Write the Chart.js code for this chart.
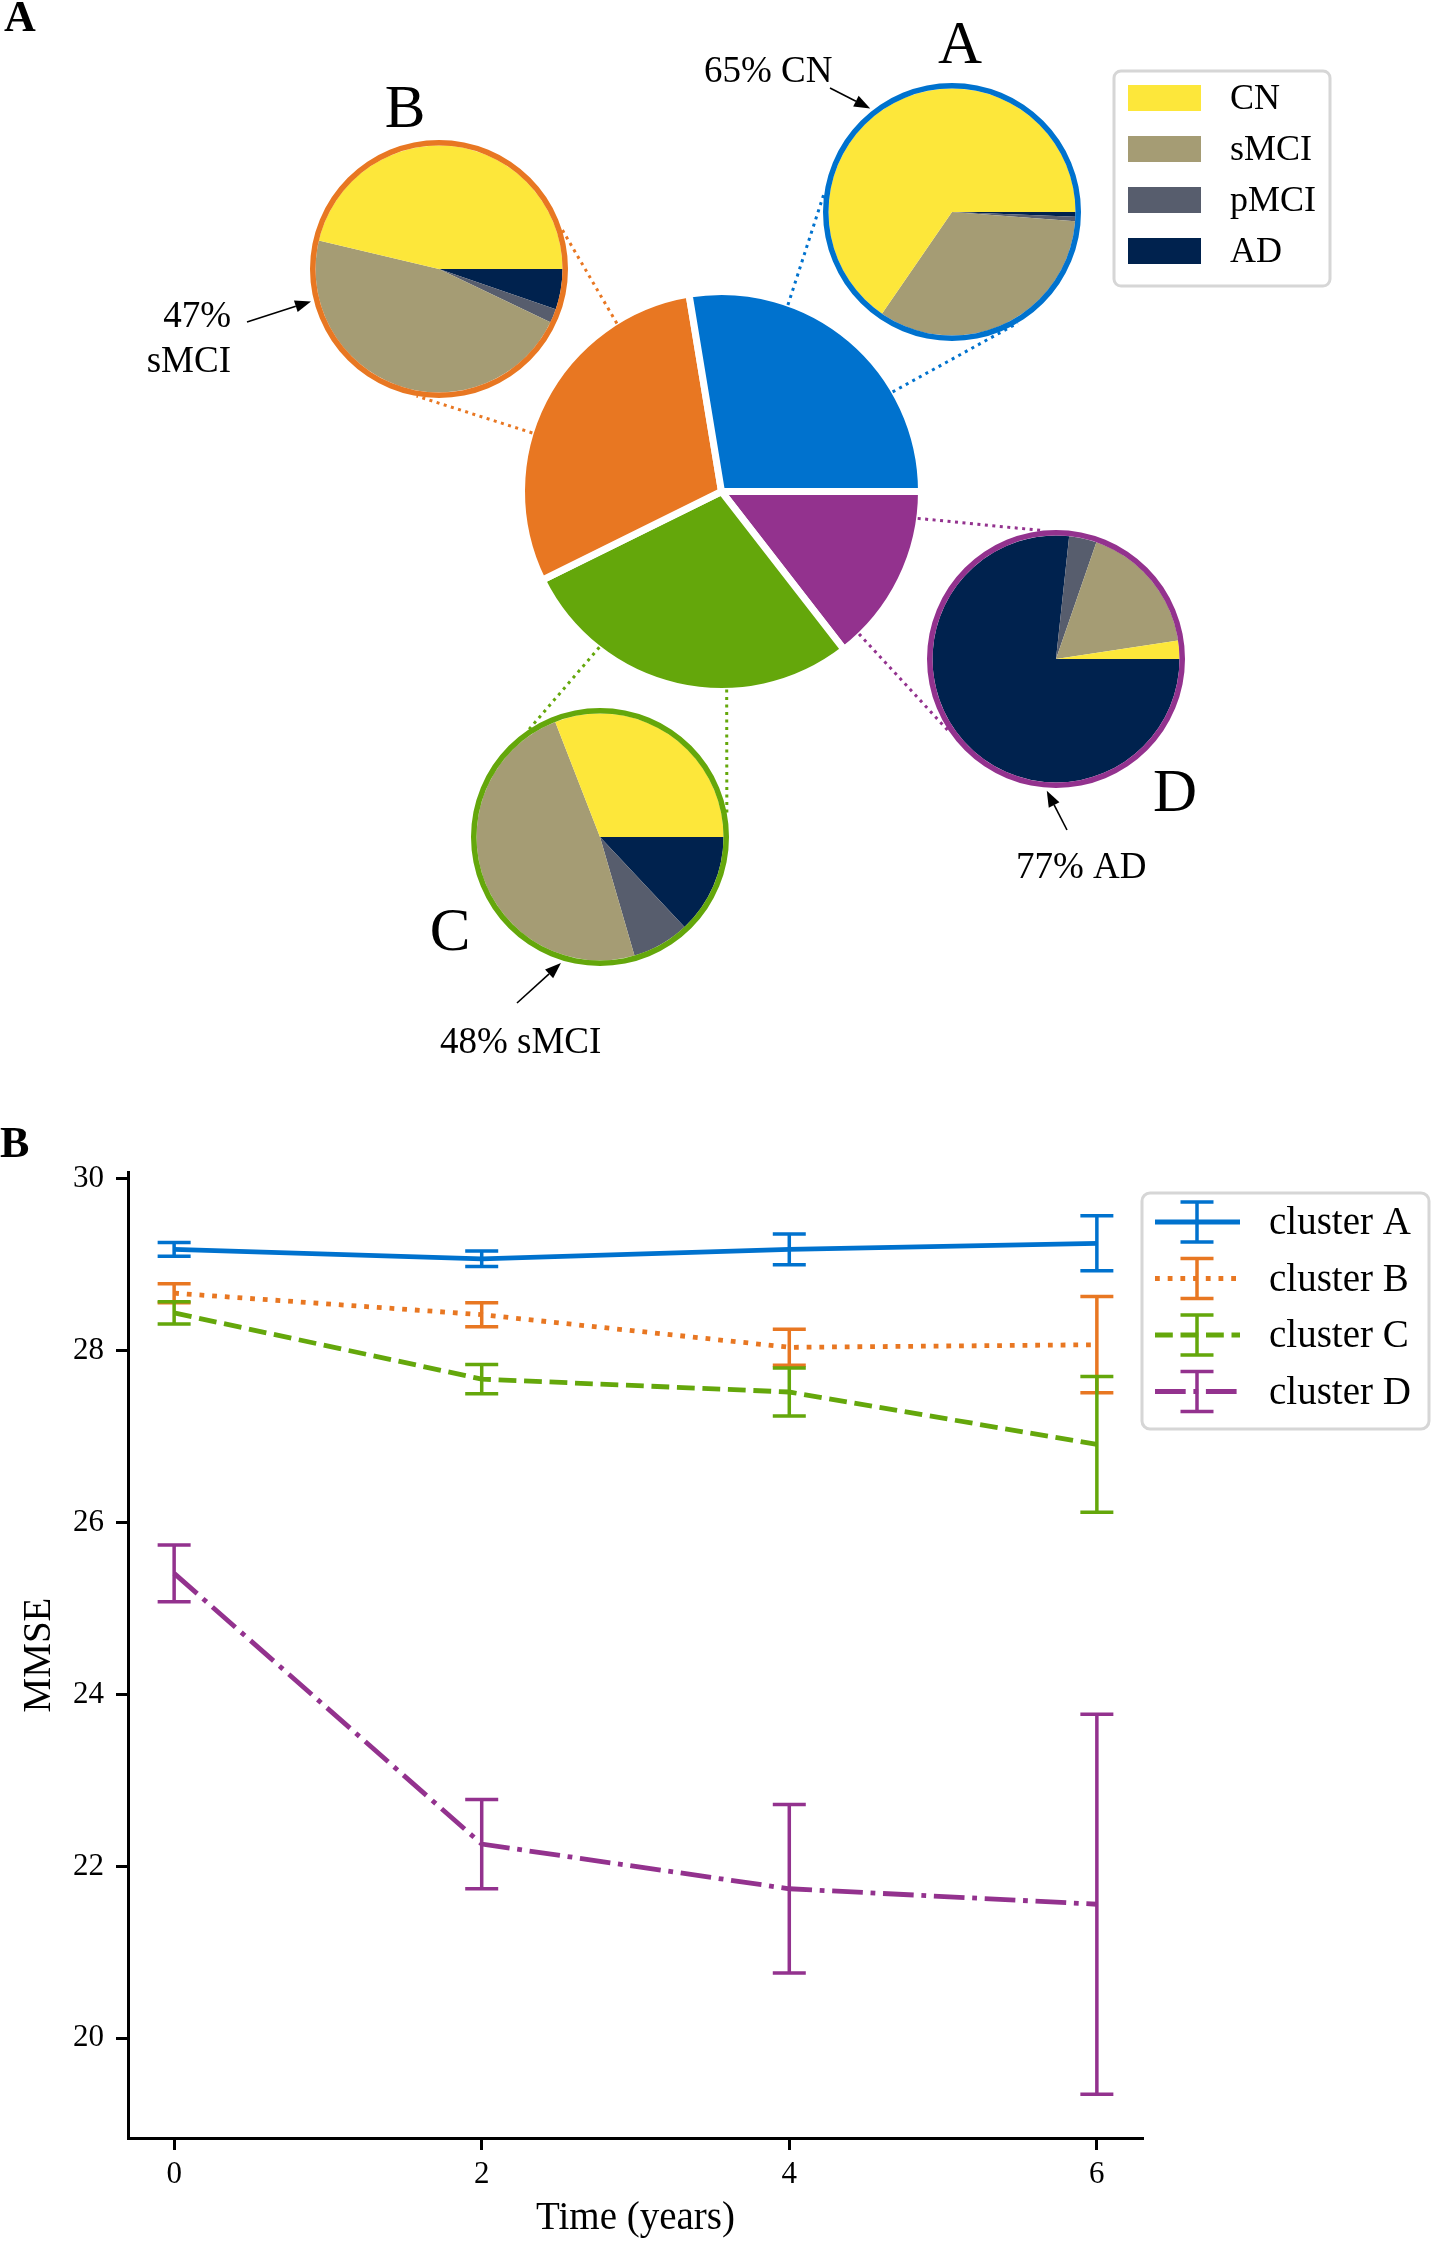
<!DOCTYPE html>
<html lang="en">
<head>
<meta charset="UTF-8">
<title>Cluster composition and MMSE trajectories</title>
<script src="https://cdn.jsdelivr.net/npm/chart.js"></script>
<style>
    body { margin: 0; background: #fff; }
    #page { position: relative; width: 1432px; height: 2242px; overflow: hidden; }
    canvas { position: absolute; }
    .sub { z-index: 2; }
</style>
</head>
<body>
<div id="page">
    <canvas id="mainPie" width="1432" height="1100" style="left:0px;top:0px"></canvas>
    <canvas id="subA" class="sub" width="270" height="270"></canvas>
    <canvas id="subB" class="sub" width="270" height="270"></canvas>
    <canvas id="subC" class="sub" width="270" height="270"></canvas>
    <canvas id="subD" class="sub" width="270" height="270"></canvas>
    <canvas id="mmseChart" width="1432" height="1142" style="left:0px;top:1100px"></canvas>
</div>

<script>
// ---- data ----
const clusters = ['A', 'B', 'C', 'D'];
const clusterColors = ['#0072ce', '#e87722', '#64a70b', '#93328e'];
const clusterShare = [27.6, 29.7, 28.2, 14.5];          // % of subjects per cluster

const groups = ['CN', 'sMCI', 'pMCI', 'AD'];
const groupColors = ['#fde73a', '#a59c74', '#575d6d', '#00224e'];
const compA = [65.4, 33.4, 0.6, 0.6];
const compB = [46.3, 46.6, 1.8, 5.3];
const compC = [30.9, 48.6, 7.5, 13.0];
const compD = [2.4, 17.3, 3.6, 76.7];

const years = [0, 2, 4, 6];
const mmseA = [29.18, 29.07, 29.18, 29.25];
const mmseB = [28.67, 28.42, 28.04, 28.07];
const mmseC = [28.44, 27.67, 27.52, 26.91];
const mmseD = [25.41, 22.26, 21.74, 21.56];
const errA = [0.08, 0.09, 0.18, 0.32];
const errB = [0.11, 0.14, 0.21, 0.56];
const errC = [0.13, 0.17, 0.28, 0.79];
const errD = [0.33, 0.52, 0.98, 2.21];

const xTicks = [0, 2, 4, 6];
const yTicks = [20, 22, 24, 26, 28, 30];

// ---- layout of panel A ----
const FONT = '"Liberation Serif", "DejaVu Serif", serif';
const subCenters = [[952, 212], [439, 269], [600, 837], [1056, 659]];
const SUB_R = 129, RING_W = 5.5;
// dotted links: angle on main pie -> angle on sub pie (deg, ccw from east)
const linkMain = [[70.4, 30.2], [121.9, 162.8], [231.9, 271.5], [352.2, 314]];
const linkSub = [[171, 300.6], [18.3, 260], [123.3, 10.5], [95.7, 215.1]];
const letterPos = [[960, 63], [405, 127], [450, 950], [1175, 811]];
const notes = [
    { lines: ['65% CN'], x: 704, y: [82], align: 'left', tail: [830, 88], tip: 128.3 },
    { lines: ['47%', 'sMCI'], x: 231, y: [327, 372], align: 'right', tail: [247, 322], tip: 194.2 },
    { lines: ['48% sMCI'], x: 440, y: [1053], align: 'left', tail: [517, 1003], tip: 252.8 },
    { lines: ['77% AD'], x: 1016, y: [878], align: 'left', tail: [1067, 830], tip: 266 }
];

const comps = [compA, compB, compC, compD];
const rev = a => a.slice().reverse();   // chart.js goes clockwise, the figure counter-clockwise

function polar(cx, cy, r, deg) {
    const a = deg * Math.PI / 180;
    return [cx + r * Math.cos(a), cy - r * Math.sin(a)];
}

function arrow(ctx, x0, y0, x1, y1) {
    const ang = Math.atan2(y1 - y0, x1 - x0), hl = 16, hw = 6;
    const bx = x1 - hl * Math.cos(ang), by = y1 - hl * Math.sin(ang);
    ctx.strokeStyle = '#000';
    ctx.lineWidth = 1.6;
    ctx.beginPath(); ctx.moveTo(x0, y0); ctx.lineTo(bx, by); ctx.stroke();
    ctx.fillStyle = '#000';
    ctx.beginPath();
    ctx.moveTo(x1, y1);
    ctx.lineTo(bx + hw * Math.sin(ang), by - hw * Math.cos(ang));
    ctx.lineTo(bx - hw * Math.sin(ang), by + hw * Math.cos(ang));
    ctx.closePath(); ctx.fill();
}

function roundBox(ctx, x, y, w, h, r) {
    ctx.beginPath();
    ctx.moveTo(x + r, y);
    ctx.arcTo(x + w, y, x + w, y + h, r);
    ctx.arcTo(x + w, y + h, x, y + h, r);
    ctx.arcTo(x, y + h, x, y, r);
    ctx.arcTo(x, y, x + w, y, r);
    ctx.closePath();
}

const quiet = { legend: { display: false }, tooltip: { enabled: false } };

// ---- sub pies ----
const subCharts = comps.map((comp, i) => {
    const cv = document.getElementById('sub' + clusters[i]);
    cv.style.left = (subCenters[i][0] - 135) + 'px';
    cv.style.top = (subCenters[i][1] - 135) + 'px';
    return new Chart(cv, {
        type: 'pie',
        data: {
            labels: rev(groups),
            datasets: [
                { data: [1], backgroundColor: [clusterColors[i]], borderWidth: 0, weight: RING_W },
                { data: rev(comp), backgroundColor: rev(groupColors), borderWidth: 0, weight: SUB_R - RING_W }
            ]
        },
        options: {
            responsive: false, animation: false, events: [],
            rotation: 90, radius: SUB_R,
            layout: { padding: 0 },
            plugins: quiet
        }
    });
});

function subGeom(i) {
    const sc = subCharts[i];
    const a = sc.getDatasetMeta(0).data[0];
    return { x: a.x + parseFloat(sc.canvas.style.left), y: a.y + parseFloat(sc.canvas.style.top), r: a.outerRadius };
}

// ---- main pie + panel A annotations ----
const panelA = {
    id: 'panelA',
    afterDraw(chart) {
        const ctx = chart.ctx;
        const arc = chart.getDatasetMeta(0).data[0];
        const mx = arc.x, my = arc.y, mr = arc.outerRadius - 2;
        ctx.save();

        // dotted links
        ctx.lineWidth = 3;
        ctx.setLineDash([3, 4.5]);
        clusters.forEach((c, i) => {
            const g = subGeom(i);
            ctx.strokeStyle = clusterColors[i];
            for (let k = 0; k < 2; k++) {
                const p = polar(mx, my, mr, linkMain[i][k]);
                const q = polar(g.x, g.y, g.r, linkSub[i][k]);
                ctx.beginPath(); ctx.moveTo(p[0], p[1]); ctx.lineTo(q[0], q[1]); ctx.stroke();
            }
        });
        ctx.setLineDash([]);

        // panel label
        ctx.fillStyle = '#000';
        ctx.textBaseline = 'alphabetic';
        ctx.textAlign = 'left';
        ctx.font = 'bold 44px ' + FONT;
        ctx.fillText('A', 4, 31);

        // cluster letters
        ctx.font = '61px ' + FONT;
        ctx.textAlign = 'center';
        clusters.forEach((c, i) => ctx.fillText(c, letterPos[i][0], letterPos[i][1]));

        // notes with arrows
        ctx.font = '37px ' + FONT;
        notes.forEach((n, i) => {
            ctx.textAlign = n.align;
            n.lines.forEach((t, k) => ctx.fillText(t, n.x, n.y[k]));
            const g = subGeom(i);
            const tip = polar(g.x, g.y, g.r + 3, n.tip);
            arrow(ctx, n.tail[0], n.tail[1], tip[0], tip[1]);
        });

        // legend
        ctx.fillStyle = 'rgba(255,255,255,0.8)';
        roundBox(ctx, 1114, 71, 216, 215, 7);
        ctx.fill();
        ctx.strokeStyle = '#d6d6d6';
        ctx.lineWidth = 3;
        ctx.stroke();
        ctx.font = '36px ' + FONT;
        ctx.textAlign = 'left';
        ctx.textBaseline = 'middle';
        groups.forEach((gname, k) => {
            const cy = 98 + k * 51;
            ctx.fillStyle = groupColors[k];
            ctx.fillRect(1128, cy - 13, 73, 26);
            ctx.fillStyle = '#000';
            ctx.fillText(gname, 1230, cy + 2);
        });
        ctx.restore();
    }
};

new Chart(document.getElementById('mainPie'), {
    type: 'pie',
    data: {
        labels: rev(clusters).map(c => 'cluster ' + c),
        datasets: [{
            data: rev(clusterShare),
            backgroundColor: rev(clusterColors),
            borderColor: '#ffffff',
            borderWidth: 7,
            hoverOffset: 0
        }]
    },
    options: {
        responsive: false, animation: false, events: [],
        rotation: 90, radius: 200,
        layout: { padding: { left: 11, right: 0, top: 0, bottom: 117 } },
        plugins: quiet
    },
    plugins: [panelA]
});

// ---- panel B: MMSE over time ----
const series = [mmseA, mmseB, mmseC, mmseD];
const errs = [errA, errB, errC, errD];
const dashes = [[], [4.8, 7.9], [17.8, 7.7], [30.7, 7.7, 4.8, 7.7]];

const errorBars = {
    id: 'errorBars',
    afterDatasetsDraw(chart) {
        const { ctx, scales: { x, y } } = chart;
        ctx.save();
        ctx.lineWidth = 3.5;
        ctx.setLineDash([]);
        series.forEach((s, i) => {
            ctx.strokeStyle = clusterColors[i];
            years.forEach((yr, j) => {
                const px = x.getPixelForValue(yr);
                const lo = y.getPixelForValue(s[j] - errs[i][j]);
                const hi = y.getPixelForValue(s[j] + errs[i][j]);
                ctx.beginPath();
                ctx.moveTo(px, lo); ctx.lineTo(px, hi);
                ctx.moveTo(px - 16.5, lo); ctx.lineTo(px + 16.5, lo);
                ctx.moveTo(px - 16.5, hi); ctx.lineTo(px + 16.5, hi);
                ctx.stroke();
            });
        });
        ctx.restore();
    }
};

const mmseLegend = {
    id: 'mmseLegend',
    afterDraw(chart) {
        const ctx = chart.ctx;
        ctx.save();
        ctx.fillStyle = 'rgba(255,255,255,0.8)';
        roundBox(ctx, 1142, 93, 287, 236, 8);
        ctx.fill();
        ctx.strokeStyle = '#d6d6d6';
        ctx.lineWidth = 3;
        ctx.stroke();
        chart.data.datasets.forEach((ds, i) => {
            const cy = 122 + i * 56.5;
            ctx.strokeStyle = ds.borderColor;
            ctx.lineWidth = 4.8;
            ctx.lineCap = 'butt';
            ctx.setLineDash(dashes[i]);
            ctx.beginPath(); ctx.moveTo(1155, cy); ctx.lineTo(1240, cy); ctx.stroke();
            ctx.setLineDash([]);
            ctx.lineWidth = 3.5;
            ctx.beginPath();
            ctx.moveTo(1197, cy - 20); ctx.lineTo(1197, cy + 20);
            ctx.moveTo(1180.5, cy - 20); ctx.lineTo(1213.5, cy - 20);
            ctx.moveTo(1180.5, cy + 20); ctx.lineTo(1213.5, cy + 20);
            ctx.stroke();
            ctx.fillStyle = '#000';
            ctx.font = '39px ' + FONT;
            ctx.textAlign = 'left';
            ctx.textBaseline = 'middle';
            ctx.fillText(ds.label, 1269, cy + 2);
        });
        // panel label
        ctx.font = 'bold 44px ' + FONT;
        ctx.textBaseline = 'alphabetic';
        ctx.fillText('B', 0, 57);
        ctx.restore();
    }
};

const axisCommon = {
    grid: { drawOnChartArea: false, drawTicks: true, tickLength: 12, tickWidth: 3, tickColor: '#000' },
    border: { display: true, color: '#000', width: 3 }
};

new Chart(document.getElementById('mmseChart'), {
    type: 'line',
    data: {
        datasets: series.map((s, i) => ({
            label: 'cluster ' + clusters[i],
            data: years.map((yr, j) => ({ x: yr, y: s[j] })),
            borderColor: clusterColors[i],
            backgroundColor: clusterColors[i],
            borderWidth: 4.8,
            borderDash: dashes[i],
            borderCapStyle: 'butt',
            pointRadius: 0,
            tension: 0,
            fill: false,
            order: 3 - i
        }))
    },
    options: {
        responsive: false, animation: false, events: [],
        layout: { padding: { left: 0, right: 289, top: 72, bottom: 0 } },
        plugins: quiet,
        scales: {
            x: {
                type: 'linear', min: -0.3, max: 6.3,
                afterBuildTicks: s => { s.ticks = xTicks.map(v => ({ value: v })); },
                afterFit: s => { s.height = 104; },
                ...axisCommon,
                ticks: { color: '#000', font: { family: FONT, size: 31 }, padding: 6, maxRotation: 0 },
                title: { display: true, text: 'Time (years)', color: '#000', font: { family: FONT, size: 39 }, padding: { top: 0, bottom: 0 } }
            },
            y: {
                type: 'linear', min: 18.84, max: 30.08,
                afterBuildTicks: s => { s.ticks = yTicks.map(v => ({ value: v })); },
                afterFit: s => { s.width = 128; },
                ...axisCommon,
                ticks: { color: '#000', font: { family: FONT, size: 31 }, padding: 12 },
                title: { display: true, text: 'MMSE', color: '#000', font: { family: FONT, size: 39 }, padding: { top: 16, bottom: 0 } }
            }
        }
    },
    plugins: [errorBars, mmseLegend]
});
</script>
</body>
</html>
